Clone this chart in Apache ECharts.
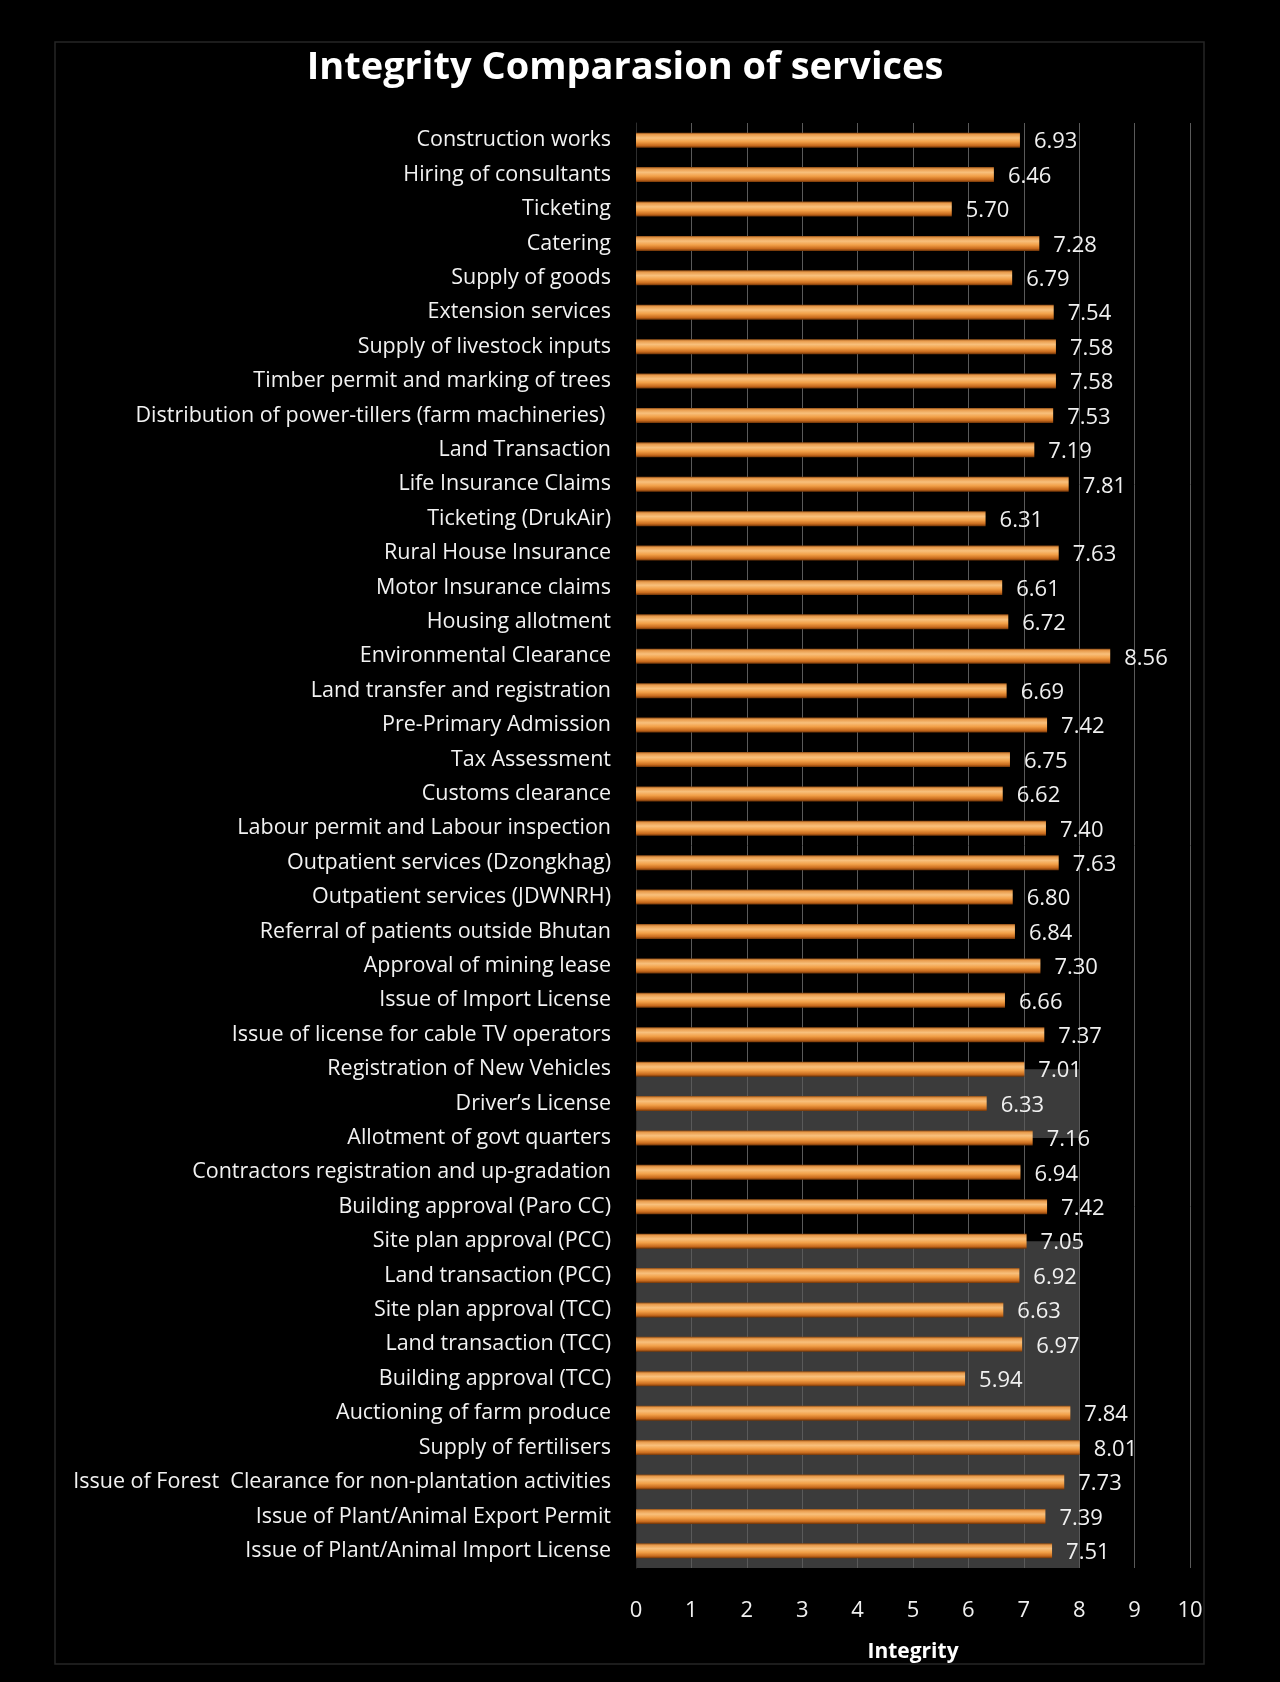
<!DOCTYPE html>
<html>
<head>
<meta charset="utf-8">
<title>Integrity Comparasion of services</title>
<script src="https://cdn.jsdelivr.net/npm/echarts@6/dist/echarts.min.js"></script>
<style>
  html, body { margin: 0; padding: 0; background: #000; }
  #chart { width: 1280px; height: 1682px; }
</style>
</head>
<body>
<div id="chart"></div>
<script>
// Services, top to bottom
const services = [
  'Construction works',
  'Hiring of consultants',
  'Ticketing',
  'Catering',
  'Supply of goods',
  'Extension services',
  'Supply of livestock inputs',
  'Timber permit and marking of trees',
  'Distribution of power-tillers (farm machineries) ',
  'Land Transaction',
  'Life Insurance Claims',
  'Ticketing (DrukAir)',
  'Rural House Insurance',
  'Motor Insurance claims',
  'Housing allotment',
  'Environmental Clearance',
  'Land transfer and registration',
  'Pre-Primary Admission',
  'Tax Assessment',
  'Customs clearance',
  'Labour permit and Labour inspection',
  'Outpatient services (Dzongkhag)',
  'Outpatient services (JDWNRH)',
  'Referral of patients outside Bhutan',
  'Approval of mining lease',
  'Issue of Import License',
  'Issue of license for cable TV operators',
  'Registration of New Vehicles',
  'Driver\u2019s License',
  'Allotment of govt quarters',
  'Contractors registration and up-gradation',
  'Building approval (Paro CC)',
  'Site plan approval (PCC)',
  'Land transaction (PCC)',
  'Site plan approval (TCC)',
  'Land transaction (TCC)',
  'Building approval (TCC)',
  'Auctioning of farm produce',
  'Supply of fertilisers',
  'Issue of Forest  Clearance for non-plantation activities',
  'Issue of Plant/Animal Export Permit',
  'Issue of Plant/Animal Import License'
];

// Integrity score per service
const integrity = [
  6.93, 6.46, 5.70, 7.28, 6.79, 7.54, 7.58, 7.58, 7.53, 7.19,
  7.81, 6.31, 7.63, 6.61, 6.72, 8.56, 6.69, 7.42, 6.75, 6.62,
  7.40, 7.63, 6.80, 6.84, 7.30, 6.66, 7.37, 7.01, 6.33, 7.16,
  6.94, 7.42, 7.05, 6.92, 6.63, 6.97, 5.94, 7.84, 8.01, 7.73,
  7.39, 7.51
];

// Axis ticks
const xTicks = [0, 1, 2, 3, 4, 5, 6, 7, 8, 9, 10];

// Grey back-wall bands: [from service, to service (null = plot bottom), right edge value]
const wallBands = [
  ['Registration of New Vehicles', 'Allotment of govt quarters', 8],
  ['Site plan approval (PCC)', null, 8]
];

const FONT = '"Open Sans", Lato, sans-serif';

const wallData = wallBands.map(b => [
  b[2],
  services.indexOf(b[0]),
  b[1] === null ? services.length - 1 : services.indexOf(b[1]),
  b[1] === null ? 1 : 0
]);

const barGradient = new echarts.graphic.LinearGradient(0, 0, 0, 1, [
  { offset: 0, color: '#8a4a14' },
  { offset: 0.12, color: '#e89a4a' },
  { offset: 0.35, color: '#f8c07c' },
  { offset: 0.6, color: '#f2a048' },
  { offset: 0.85, color: '#c86a1c' },
  { offset: 1, color: '#6e3408' }
]);

const chart = echarts.init(document.getElementById('chart'), null, { renderer: 'canvas' });

chart.setOption({
  backgroundColor: '#000',
  animation: false,
  title: {
    text: 'Integrity Comparasion of services',
    left: 620,
    top: 44,
    textAlign: 'center',
    textStyle: { color: '#fff', fontFamily: FONT, fontWeight: 'bold', fontSize: 38 }
  },
  graphic: [{
    type: 'rect',
    shape: { x: 55, y: 42, width: 1149, height: 1622 },
    style: { fill: null, stroke: '#262626', lineWidth: 1.5 },
    silent: true,
    z: -10
  }],
  grid: { left: 636, right: 90, top: 123, bottom: 114, containLabel: false },
  xAxis: {
    type: 'value',
    min: xTicks[0],
    max: xTicks[xTicks.length - 1],
    interval: 1,
    name: 'Integrity',
    nameLocation: 'middle',
    nameGap: 74,
    nameTextStyle: { color: '#fff', fontFamily: FONT, fontWeight: 'bold', fontSize: 21 },
    axisLine: { show: false },
    axisTick: { show: false },
    axisLabel: { color: '#f0f0f0', fontFamily: FONT, fontSize: 22, margin: 32 },
    splitLine: { show: true, lineStyle: { color: '#5a5a5a', width: 1 } }
  },
  yAxis: {
    type: 'category',
    data: services,
    inverse: true,
    axisLine: { show: true, lineStyle: { color: '#2e2e2e', width: 1 } },
    axisTick: { show: false },
    axisLabel: { color: '#f2f2f2', fontFamily: FONT, fontSize: 21.5, margin: 25, interval: 0 }
  },
  series: [
    {
      type: 'custom',
      name: 'wall',
      z: -1,
      silent: true,
      data: wallData,
      encode: { x: 0, y: 1 },
      renderItem: function (params, api) {
        const band = api.size([0, 1])[1];
        const p0 = api.coord([0, api.value(1)]);
        const p1 = api.coord([api.value(0), api.value(2)]);
        const top = p0[1];
        const bottom = p1[1] + (api.value(3) ? band / 2 : 0);
        return {
          type: 'rect',
          shape: { x: p0[0], y: top, width: p1[0] - p0[0], height: bottom - top },
          style: { fill: '#3b3b3b' }
        };
      }
    },
    {
      type: 'bar',
      name: 'Integrity',
      data: integrity,
      barWidth: 15,
      itemStyle: { color: barGradient },
      label: {
        show: true,
        position: 'right',
        distance: 14,
        offset: [0, 2],
        color: '#f0f0f0',
        fontFamily: FONT,
        fontSize: 22,
        formatter: p => p.value.toFixed(2)
      }
    }
  ]
});
</script>
</body>
</html>
